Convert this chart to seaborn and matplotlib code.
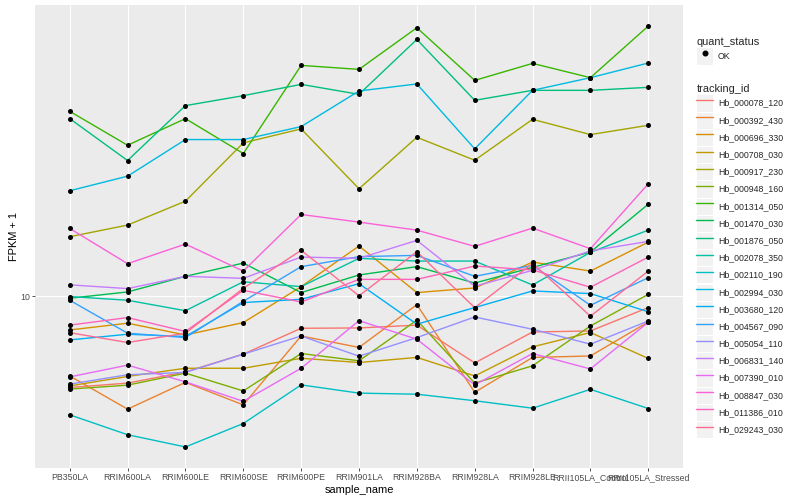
import matplotlib
matplotlib.use("Agg")
import matplotlib.pyplot as plt
import seaborn as sns
import pandas as pd
from matplotlib.lines import Line2D
from matplotlib.patches import Rectangle
from matplotlib.legend_handler import HandlerLine2D
from matplotlib.ticker import LogLocator, NullLocator, FuncFormatter

# sample order on the x axis
samples = ["PB350LA", "RRIM600LA", "RRIM600LE", "RRIM600SE", "RRIM600PE",
           "RRIM901LA", "RRIM928BA", "RRIM928LA", "RRIM928LE",
           "RRII105LA_Control", "RRII105LA_Stressed"]

tracking_ids = ["Hb_000078_120", "Hb_000392_430", "Hb_000696_330", "Hb_000708_030",
                "Hb_000917_230", "Hb_000948_160", "Hb_001314_050", "Hb_001470_030",
                "Hb_001876_050", "Hb_002078_350", "Hb_002110_190", "Hb_002994_030",
                "Hb_003680_120", "Hb_004567_090", "Hb_005054_110", "Hb_006831_140",
                "Hb_007390_010", "Hb_008847_030", "Hb_011386_010", "Hb_029243_030"]

# FPKM + 1 (log axis)
hb_000078_120 = [4.96, 5.13, 5.59, 6.41, 7.82, 7.84, 8.01, 5.99, 7.60, 7.66, 9.17]
hb_000392_430 = [5.42, 4.20, 5.16, 4.34, 7.37, 6.75, 9.38, 4.78, 6.25, 6.32, 8.21]
hb_000696_330 = [7.72, 8.13, 7.43, 8.17, 10.77, 14.72, 10.29, 10.66, 13.01, 12.14, 15.17]
hb_000708_030 = [5.02, 5.40, 5.75, 5.75, 6.21, 6.01, 6.25, 5.42, 6.78, 7.57, 6.20]
hb_000917_230 = [15.81, 17.29, 20.78, 32.53, 36.22, 22.86, 33.96, 28.46, 38.99, 34.67, 37.24]
hb_000948_160 = [4.90, 5.05, 5.54, 4.83, 6.44, 6.09, 8.32, 5.13, 5.86, 7.96, 10.15]
hb_001314_050 = [41.47, 31.94, 39.20, 29.97, 59.02, 57.24, 78.83, 52.60, 59.93, 53.70, 79.87]
hb_001470_030 = [9.85, 10.34, 11.66, 12.91, 10.29, 11.78, 12.56, 11.07, 12.49, 14.05, 20.31]
hb_001876_050 = [39.20, 28.40, 43.32, 46.77, 51.01, 47.24, 72.05, 45.12, 48.72, 48.72, 49.85]
hb_002078_350 = [9.98, 9.70, 8.95, 11.18, 10.77, 13.39, 13.11, 13.11, 10.91, 14.02, 16.63]
hb_002110_190 = [4.02, 3.45, 3.14, 3.76, 5.06, 4.75, 4.71, 4.48, 4.23, 4.89, 4.22]
hb_002994_030 = [22.51, 25.18, 33.37, 33.37, 36.87, 48.49, 51.17, 31.07, 48.72, 53.70, 60.12]
hb_003680_120 = [7.15, 7.47, 7.34, 9.53, 9.77, 11.02, 8.07, 9.17, 10.42, 10.21, 8.88]
hb_004567_090 = [9.70, 7.53, 7.28, 9.62, 12.56, 13.56, 13.70, 11.66, 12.69, 9.33, 11.54]
hb_005054_110 = [5.09, 5.47, 5.57, 6.41, 7.37, 6.31, 7.28, 8.53, 7.76, 6.92, 8.27]
hb_006831_140 = [10.92, 10.61, 11.66, 11.48, 13.52, 13.39, 15.37, 10.80, 12.21, 14.18, 15.25]
hb_007390_010 = [5.38, 5.89, 5.18, 4.46, 5.75, 8.29, 7.19, 5.06, 6.44, 5.72, 8.19]
hb_008847_030 = [16.85, 12.85, 14.94, 12.14, 18.76, 17.69, 16.63, 14.68, 16.89, 14.42, 23.75]
hb_011386_010 = [8.01, 8.49, 7.63, 10.47, 9.57, 11.39, 11.39, 12.62, 12.25, 10.72, 13.52]
hb_029243_030 = [7.56, 7.01, 7.53, 10.63, 14.24, 10.04, 14.09, 9.16, 12.88, 8.58, 12.14]

fpkm_series = [hb_000078_120, hb_000392_430, hb_000696_330, hb_000708_030,
               hb_000917_230, hb_000948_160, hb_001314_050, hb_001470_030,
               hb_001876_050, hb_002078_350, hb_002110_190, hb_002994_030,
               hb_003680_120, hb_004567_090, hb_005054_110, hb_006831_140,
               hb_007390_010, hb_008847_030, hb_011386_010, hb_029243_030]

# ggplot default hue palette for 20 levels
palette = ["#F8766D", "#EA8331", "#D89000", "#C09B00", "#A3A500", "#7CAE00",
           "#39B600", "#00BB4E", "#00BF7D", "#00C1A3", "#00BFC4", "#00BAE0",
           "#00B0F6", "#35A2FF", "#9590FF", "#C77CFF", "#E76BF3", "#FA62DB",
           "#FF62BC", "#FF6C91"]

rows = []
for tid, vals in zip(tracking_ids, fpkm_series):
    for s, v in zip(samples, vals):
        rows.append({"tracking_id": tid, "sample_name": s, "fpkm": v, "quant_status": "OK"})
df = pd.DataFrame(rows)


class KeyHandler(HandlerLine2D):
    # grey key box behind each legend entry, like ggplot
    def create_artists(self, legend, orig_handle, xdescent, ydescent, width, height, fontsize, trans):
        bg = Rectangle((-xdescent, -ydescent), width, height, facecolor="#F2F2F2",
                       edgecolor="white", linewidth=0.8, transform=trans)
        arts = super().create_artists(legend, orig_handle, xdescent, ydescent,
                                      width, height, fontsize, trans)
        return [bg] + arts


sns.set_theme(style="darkgrid", rc={"axes.facecolor": "#EBEBEB", "figure.facecolor": "white"})
plt.rcParams["font.family"] = ["Liberation Sans", "DejaVu Sans"]

fig = plt.figure(figsize=(8, 5), dpi=100)
ax = fig.add_axes([35 / 800, 32 / 500, 648 / 800, 463 / 500])

sns.lineplot(data=df, x="sample_name", y="fpkm", hue="tracking_id", palette=palette,
             sort=False, errorbar=None, linewidth=1.0, legend=False, ax=ax)
sns.scatterplot(data=df, x="sample_name", y="fpkm", color="black", s=13, marker="o",
                linewidth=0, legend=False, ax=ax, zorder=3)

ax.set_yscale("log")
ax.yaxis.set_major_locator(LogLocator(base=10))
ax.yaxis.set_minor_locator(NullLocator())
ax.yaxis.set_major_formatter(FuncFormatter(lambda v, p: f"{v:g}"))
ax.set_xlim(-0.6, len(samples) - 0.4)
ax.margins(y=0.05)

ax.grid(which="major", color="white", linewidth=0.8)
for sp in ax.spines.values():
    sp.set_visible(False)
ax.tick_params(bottom=True, left=True, length=2, width=0.6, color="#333333",
               labelsize=6.3, labelcolor="#4D4D4D", pad=1.5)
ax.set_xlabel("sample_name", fontsize=7.9, labelpad=2, color="black")
ax.set_ylabel("FPKM + 1", fontsize=7.9, labelpad=1, color="black")

# legends
leg_kw = dict(loc="upper left", frameon=False, fontsize=6.3, title_fontsize=7.9,
              alignment="left", handlelength=1.95, handleheight=2.63,
              handletextpad=0.5, labelspacing=0.01, borderpad=0,
              handler_map={Line2D: KeyHandler()})

status_handles = [Line2D([], [], marker="o", color="black", linestyle="", markersize=3.3)]
leg1 = fig.legend(status_handles, ["OK"], title="quant_status",
                  bbox_to_anchor=(692 / 800, 1 - 33 / 500), **leg_kw)

id_handles = [Line2D([], [], color=c, linewidth=1.0) for c in palette]
leg2 = fig.legend(id_handles, tracking_ids, title="tracking_id",
                  bbox_to_anchor=(692 / 800, 1 - 80 / 500), **leg_kw)

fig.savefig("out.png", dpi=100)
